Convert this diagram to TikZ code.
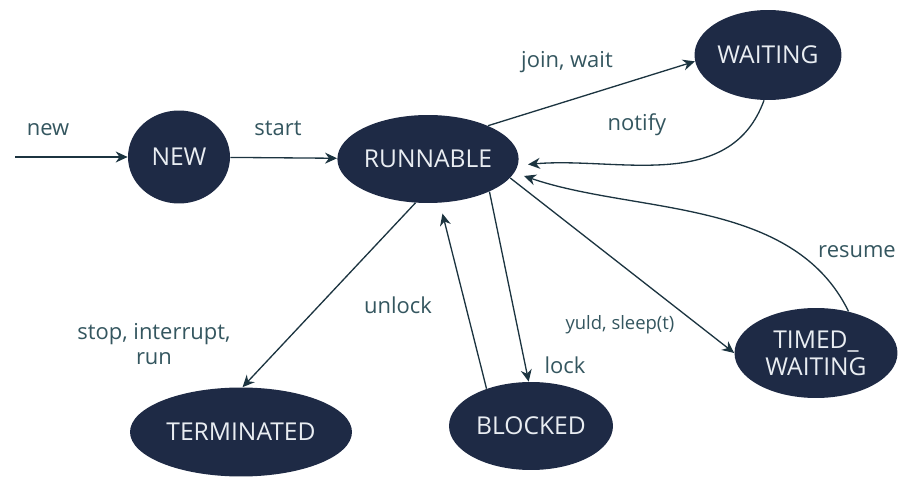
\documentclass[tikz,border=0pt]{standalone}
\usepackage{fontspec}
\setmainfont{Open Sans}
\usepackage{tikz}
\usepackage{xcolor}
\usetikzlibrary{arrows.meta,positioning,shapes.geometric}
\definecolor{navy}{HTML}{1E2A45}
\definecolor{statetxt}{HTML}{E9EDF2}
\definecolor{edgeink}{HTML}{1C3440}
\definecolor{labelink}{HTML}{34565F}
\tikzset{
  state/.style={ellipse,draw=none,fill=navy,text=statetxt,
                inner sep=0pt,align=center,font=\fontsize{14}{15}\selectfont},
  trans/.style={-{Stealth[length=2.4mm,width=2.2mm]},line width=0.75pt,color=edgeink},
  lbl/.style={text=labelink,font=\fontsize{12.5}{14}\selectfont,align=center,inner sep=1pt}
}

\begin{document}
\begin{tikzpicture}[x=0.02cm,y=0.02cm]
  \useasboundingbox (0,0) rectangle (910,477);
  % states
  \node[state,minimum width=2.04cm,minimum height=1.86cm] (new)  at (179,320) {NEW};
  \node[state,minimum width=3.42cm,minimum height=1.76cm] (run)  at (428,318) {RUNNABLE};
  \node[state,minimum width=2.94cm,minimum height=1.80cm] (wait) at (768,422) {WAITING};
  \node[state,minimum width=4.44cm,minimum height=1.78cm] (term) at (241,45)  {TERMINATED};
  \node[state,minimum width=3.28cm,minimum height=1.76cm] (blk)  at (531,51)  {BLOCKED};
  \node[state,minimum width=3.26cm,minimum height=1.80cm,
        font=\fontsize{14}{15.5}\selectfont] (timed) at (816,124) {TIMED\_\\WAITING};
  \coordinate (src) at (15,320);
  % transitions
  \draw[trans] (src) -- (new);
  \draw[trans] (new) -- (run);
  \draw[trans] (run.29) -- (wait.185);
  \draw[trans,shorten >=2mm] (wait.265) to[out=250,in=5] (run.-4);
  \draw[trans,shorten >=2mm] (timed.52) to[out=116,in=-19,looseness=0.9] (run.-9);
  \draw[trans] (run.-13) -- (timed.west);
  \draw[trans] (run.-28) -- (blk.93);
  \draw[trans,shorten >=2.2mm] (blk.140) -- (run.-75);
  \draw[trans] (run.-106) -- (term.88);
  % labels
  \node[lbl] (lnew)    at (48,347)  {new};
  \node[lbl] (lstart)  at (278,349) {start};
  \node[lbl] (ljoin)   at (567,415) {join, wait};
  \node[lbl] (lnotify) at (637,352) {notify};
  \node[lbl] (lresume) at (857,225) {resume};
  \node[lbl,font=\fontsize{10.5}{12}\selectfont] (lyuld) at (620,152) {yuld, sleep(t)};
  \node[lbl] (llock)   at (565,112) {lock};
  \node[lbl] (lunlock) at (398,172) {unlock};
  \node[lbl] (lstop)   at (154,133) {stop, interrupt,\\run};
\end{tikzpicture}
\end{document}
